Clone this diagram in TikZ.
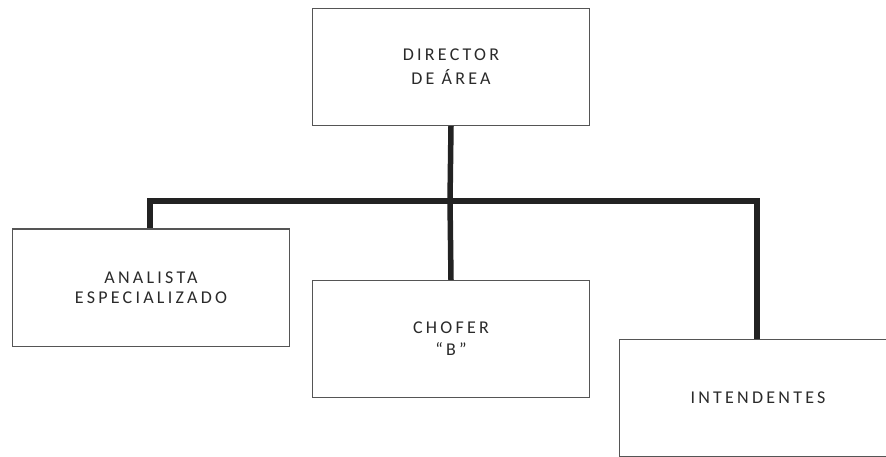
\documentclass[tikz,border=0pt]{standalone}
\usepackage{fontspec}
\setmainfont{Carlito}[LetterSpace=18]
\definecolor{boxline}{HTML}{555555}
\definecolor{linkline}{HTML}{222222}
\definecolor{labeltext}{HTML}{2A2A2A}
\begin{document}
\begin{tikzpicture}[x=1pt,y=-1pt,
  orgbox/.style={draw=boxline,line width=1pt,fill=white,minimum width=277pt,
    minimum height=117pt,inner sep=0pt,align=center,text=labeltext,
    font=\fontsize{18}{21}\selectfont},
  link/.style={draw=linkline,line width=5.5pt}]
  \useasboundingbox (0,0) rectangle (886,457);
  \clip (0,0) rectangle (886,457);
  % junction points of the connector bar
  \coordinate (hub) at (450,201);
  \coordinate (hl) at (150,201);
  \coordinate (hr) at (757,201);
  % boxes
  \node[orgbox,anchor=north west,font=\fontsize{18}{24}\selectfont] (dir) at (312,8) {DIRECTOR\\DE ÁREA};
  \node[orgbox,anchor=north west,font=\fontsize{18}{20}\selectfont] (ana) at (12,229) {ANALISTA\\ESPECIALIZADO};
  \node[orgbox,anchor=north west,font=\fontsize{18}{22}\selectfont] (cho) at (312,280) {CHOFER\\“B”};
  \node[orgbox,anchor=north west] (int) at (619,339) {INTENDENTES};
  % connectors
  \draw[link] (dir.south) -- (hub);
  \draw[link,line cap=rect] (hl) -- (hr);
  \draw[link] (hl) -- (hl |- ana.north);
  \draw[link] (hub) -- (cho.north);
  \draw[link] (hr) -- (hr |- int.north);
  % box outlines redrawn over the connector ends
  \draw[boxline,line width=1pt] (ana.north west) -- (ana.north east);
  \draw[boxline,line width=1pt] (cho.north west) -- (cho.north east);
  \draw[boxline,line width=1pt] (int.north west) -- (int.north east);
  \draw[boxline,line width=1pt] (dir.south west) -- (dir.south east);
\end{tikzpicture}
\end{document}
